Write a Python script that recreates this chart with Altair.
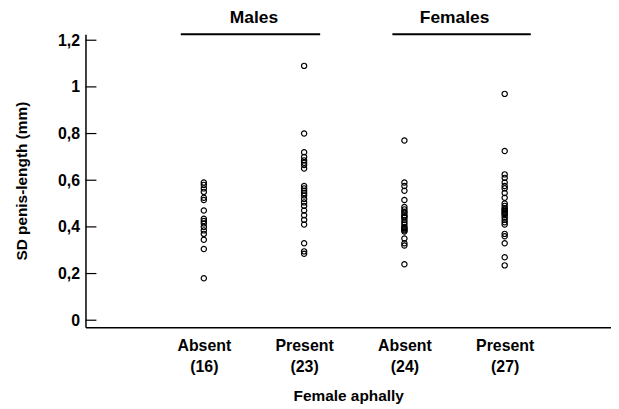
import altair as alt
import pandas as pd

# ---- data ----
categories = ["Absent", "Present", "Absent", "Present"]
counts = [16, 23, 24, 27]
positions = [1, 2, 3, 4]

males_absent = [0.59, 0.58, 0.565, 0.55, 0.525, 0.515, 0.47, 0.435, 0.425, 0.415,
                0.40, 0.385, 0.37, 0.345, 0.305, 0.18]
males_present = [1.09, 0.80, 0.72, 0.70, 0.685, 0.675, 0.665, 0.65, 0.575, 0.565,
                 0.555, 0.545, 0.535, 0.52, 0.505, 0.49, 0.47, 0.45, 0.43, 0.41,
                 0.33, 0.295, 0.285]
females_absent = [0.77, 0.59, 0.575, 0.555, 0.515, 0.485, 0.475, 0.465, 0.46, 0.45,
                  0.445, 0.44, 0.43, 0.42, 0.41, 0.40, 0.395, 0.39, 0.385, 0.38,
                  0.35, 0.33, 0.32, 0.24]
females_present = [0.97, 0.725, 0.625, 0.61, 0.59, 0.575, 0.565, 0.545, 0.525, 0.50,
                   0.49, 0.48, 0.475, 0.47, 0.465, 0.46, 0.455, 0.45, 0.44, 0.43,
                   0.42, 0.41, 0.37, 0.36, 0.33, 0.27, 0.235]

sex_groups = ["Males", "Females"]
group_centers = [1.5, 3.5]
group_starts = [0.77, 2.88]
group_ends = [2.16, 4.26]

y_ticks = [0, 0.2, 0.4, 0.6, 0.8, 1.0, 1.2]

# ---- tables ----
series = [males_absent, males_present, females_absent, females_present]
rows = []
for pos, vals in zip(positions, series):
    for v in vals:
        rows.append({"pos": pos, "sd": v})
pts = pd.DataFrame(rows)

groups = pd.DataFrame({"name": sex_groups, "center": group_centers,
                       "start": group_starts, "end": group_ends})
ticks = pd.DataFrame({"t": y_ticks})

label_parts = ",".join(f"[{c!r},'({n})']" for c, n in zip(categories, counts))
label_expr = f"[{label_parts}][datum.value - 1]"

FONT = "Liberation Sans"
xscale = alt.Scale(domain=[-0.18, 5.06], nice=False, zero=False)
yscale = alt.Scale(domain=[-0.03, 1.226], nice=False, zero=False)

points = alt.Chart(pts).mark_point(
    shape="circle", filled=False, color="black", size=28, strokeWidth=1.2, opacity=1
).encode(
    x=alt.X("pos:Q", scale=xscale,
            axis=alt.Axis(values=positions, labelExpr=label_expr, ticks=False,
                          grid=False, title="Female aphally", labelFont=FONT,
                          labelFontWeight="bold", labelFontSize=16, labelColor="black",
                          labelPadding=10, labelLineHeight=22, labelBaseline="top",
                          labelFlush=False, labelOverlap=False,
                          titleFont=FONT, titleFontWeight="bold", titleFontSize=15.5,
                          titleColor="black", titlePadding=14, domainColor="black",
                          domainWidth=1.5)),
    y=alt.Y("sd:Q", scale=yscale,
            axis=alt.Axis(values=y_ticks, ticks=False, grid=False,
                          labelExpr="replace(format(datum.value, '.1~f'), '.', ',')",
                          title="SD penis-length (mm)", labelFont=FONT,
                          labelFontWeight="bold", labelFontSize=16, labelColor="black",
                          labelPadding=6, titleFont=FONT, titleFontWeight="bold",
                          titleFontSize=15.5, titleColor="black", titlePadding=28,
                          domainColor="black", domainWidth=1.5)),
)

tick_marks = alt.Chart(ticks).mark_rule(color="black", strokeWidth=1.2).encode(
    y=alt.Y("t:Q", scale=yscale),
    x=alt.value(0),
    x2=alt.value(11),
)

group_lines = alt.Chart(groups).mark_rule(color="black", strokeWidth=2).encode(
    x=alt.X("start:Q", scale=xscale),
    x2="end:Q",
    y=alt.value(0),
)

group_text = alt.Chart(groups).mark_text(
    font=FONT, fontWeight="bold", fontSize=17.5, color="black", baseline="middle"
).encode(
    x=alt.X("center:Q", scale=xscale),
    y=alt.value(-16),
    text="name:N",
)

chart = alt.layer(points, tick_marks, group_lines, group_text).properties(
    width=529, height=295,
    background="white",
    autosize=alt.AutoSizeParams(type="none"),
    padding={"left": 78, "top": 25, "right": 0, "bottom": 82},
).configure_view(stroke=None)

chart.save("out.html", embed_options={"renderer": "svg", "actions": False})
